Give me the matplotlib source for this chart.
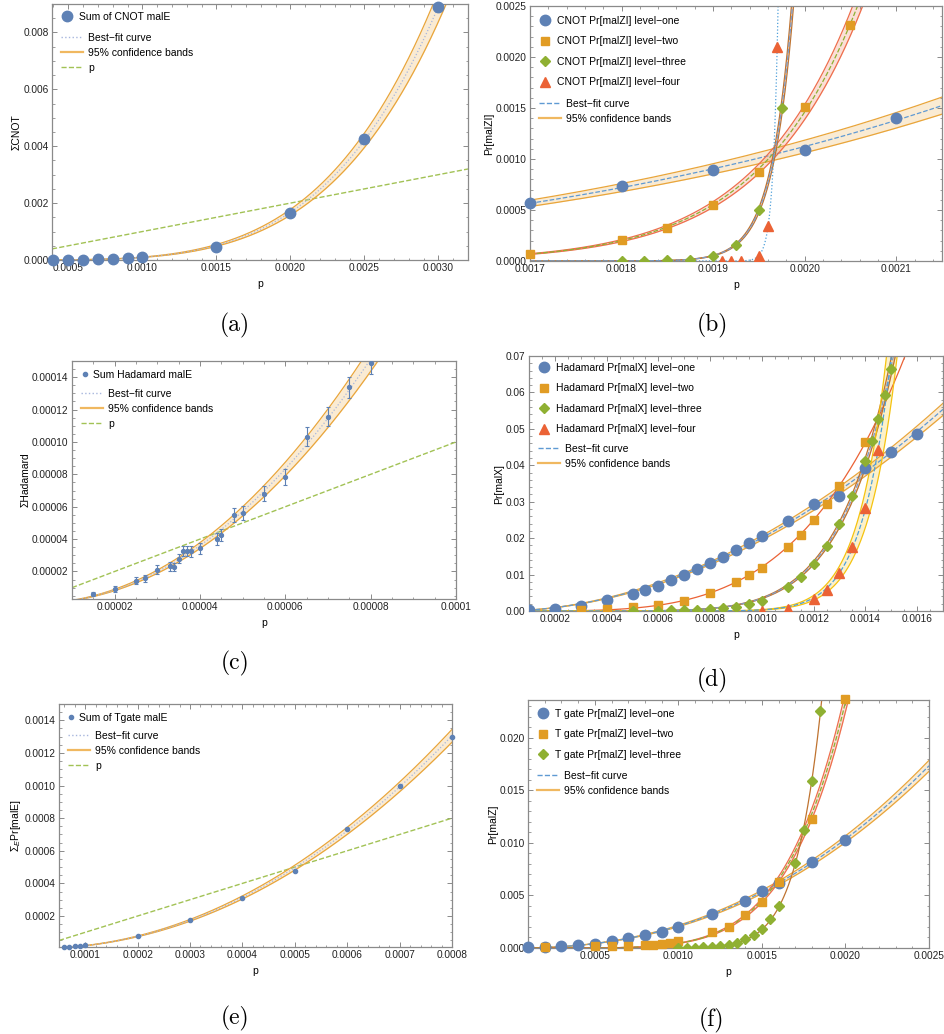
import numpy as np
import matplotlib
matplotlib.use('Agg')
import matplotlib.pyplot as plt
from matplotlib.lines import Line2D
from matplotlib.ticker import MultipleLocator, AutoMinorLocator, FuncFormatter

plt.rcParams['font.family'] = ['Liberation Sans', 'DejaVu Sans']
plt.rcParams['mathtext.fontset'] = 'custom'
plt.rcParams['mathtext.rm'] = 'Liberation Sans'
plt.rcParams['mathtext.it'] = 'Liberation Sans:italic'

# ---- data ----
# (a) CNOT sum
cnot_sum_p = [0.0004, 0.0005, 0.0006, 0.0007, 0.0008, 0.0009, 0.0010, 0.0015, 0.0020, 0.0025, 0.0030]
cnot_sum_y = [0.000003, 0.000007, 0.000014, 0.000026, 0.000044, 0.00007, 0.0001, 0.00045, 0.00165, 0.00425, 0.0089]

# (b) CNOT levels
cnot_l1_p = [0.0017, 0.0018, 0.0019, 0.0020, 0.0021]
cnot_l1_y = [0.00057, 0.00074, 0.00089, 0.00109, 0.0014]
cnot_l2_p = [0.0017, 0.0018, 0.00185, 0.0019, 0.00195, 0.0020, 0.00205]
cnot_l2_y = [0.00007, 0.00021, 0.00032, 0.00055, 0.00087, 0.00151, 0.00231]
cnot_l3_p = [0.0018, 0.001825, 0.00185, 0.001875, 0.0019, 0.001925, 0.00195, 0.001975]
cnot_l3_y = [0.0, 0.0, 0.000005, 0.00001, 0.00005, 0.00016, 0.0005, 0.0015]
cnot_l4_p = [0.00191, 0.00192, 0.00193, 0.00195, 0.00196, 0.00197]
cnot_l4_y = [0.0, 0.0, 0.0, 0.00005, 0.00034, 0.0021]

# (c) Hadamard sum with error bars
had_sum_p = [0.000015, 0.00002, 0.000025, 0.000027, 0.00003, 0.000033, 0.000034, 0.000035,
             0.000036, 0.000037, 0.000038, 0.00004, 0.000044, 0.000045, 0.000048, 0.00005,
             0.000055, 0.00006, 0.000065, 0.00007, 0.000075, 0.00008]
had_sum_y = [0.0000060, 0.0000093, 0.0000142, 0.0000157, 0.0000212, 0.0000231, 0.0000227, 0.000028,
             0.0000328, 0.0000328, 0.0000324, 0.0000344, 0.00004, 0.0000427, 0.000055, 0.0000563,
             0.000068, 0.0000786, 0.0001033, 0.0001157, 0.0001338, 0.000149]
had_sum_err = [0.0000014, 0.0000017, 0.0000021, 0.0000022, 0.0000026, 0.0000027, 0.0000027, 0.000003,
               0.0000032, 0.0000032, 0.0000032, 0.0000033, 0.0000035, 0.0000037, 0.0000042, 0.0000042,
               0.0000046, 0.000005, 0.0000057, 0.000006, 0.0000065, 0.0000068]

# (d) Hadamard levels
had_l1_p = [0.0001, 0.0002, 0.0003, 0.0004, 0.0005, 0.00055, 0.0006, 0.00065, 0.0007, 0.00075, 0.0008,
            0.00085, 0.0009, 0.00095, 0.0010, 0.0011, 0.0012, 0.0013, 0.0014, 0.0015, 0.0016]
had_l1_y = [0.0002, 0.0006, 0.0014, 0.0029, 0.0047, 0.0058, 0.0068, 0.0085, 0.0098, 0.0114, 0.0131,
            0.0148, 0.0167, 0.0186, 0.0207, 0.0248, 0.0293, 0.0316, 0.0392, 0.0436, 0.0485]
had_l2_p = [0.0003, 0.0004, 0.0005, 0.0006, 0.0007, 0.0008, 0.0009, 0.00095, 0.0010, 0.0011, 0.00115,
            0.0012, 0.00125, 0.0013, 0.0014]
had_l2_y = [0.0002, 0.0005, 0.0012, 0.0017, 0.0028, 0.0049, 0.008, 0.0099, 0.0119, 0.0177, 0.021,
            0.025, 0.0295, 0.0344, 0.0463]
had_l3_p = [0.0005, 0.0006, 0.00065, 0.0007, 0.00075, 0.0008, 0.00085, 0.0009, 0.00095, 0.0010, 0.0011,
            0.00115, 0.0012, 0.00125, 0.0013, 0.00135, 0.0014, 0.001425, 0.00145, 0.001475, 0.0015]
had_l3_y = [0.0001, 0.0001, 0.0002, 0.0003, 0.0004, 0.0006, 0.0008, 0.0012, 0.0018, 0.0028, 0.0065,
            0.0092, 0.0129, 0.0178, 0.024, 0.0316, 0.0412, 0.0467, 0.0527, 0.0594, 0.0665]
had_l4_p = [0.0010, 0.0011, 0.0012, 0.00125, 0.0013, 0.00135, 0.0014, 0.00145]
had_l4_y = [0.0, 0.0005, 0.0032, 0.0059, 0.0103, 0.0176, 0.0283, 0.0443]

# (e) T gate sum
tg_sum_p = [0.00006, 0.00007, 0.00008, 0.00009, 0.0001, 0.0002, 0.0003, 0.0004, 0.0005, 0.0006, 0.0007, 0.0008]
tg_sum_y = [0.0000098, 0.0000118, 0.000014, 0.000016, 0.0000241, 0.0000773, 0.000177, 0.000312,
            0.000474, 0.000736, 0.000998, 0.0013]

# (f) T gate levels
tg_l1_p = [0.0001, 0.0002, 0.0003, 0.0004, 0.0005, 0.0006, 0.0007, 0.0008, 0.0009, 0.0010, 0.0012,
           0.0014, 0.0015, 0.0016, 0.0018, 0.0020]
tg_l1_y = [0.0001, 0.0001, 0.00016, 0.00025, 0.0004, 0.00067, 0.00096, 0.0012, 0.00156, 0.002, 0.0032,
           0.0045, 0.0054, 0.0062, 0.0082, 0.0103]
tg_l2_p = [0.0002, 0.0005, 0.0006, 0.0007, 0.0008, 0.00085, 0.0009, 0.00095, 0.0010, 0.0012, 0.0013,
           0.0014, 0.0015, 0.0016, 0.0018, 0.0020]
tg_l2_y = [0.0001, 0.0002, 0.0002, 0.0002, 0.0003, 0.0003, 0.0004, 0.0005, 0.00067, 0.0015, 0.0020,
           0.0031, 0.0044, 0.0063, 0.0123, 0.0237]
tg_l3_p = [0.0010, 0.00105, 0.0011, 0.00115, 0.0012, 0.00125, 0.0013, 0.00135, 0.0014, 0.00145,
           0.0015, 0.00155, 0.0016, 0.0017, 0.00175, 0.0018, 0.00185]
tg_l3_y = [0.0, 0.0, 0.00002, 0.00006, 0.0001, 0.00016, 0.00025, 0.0005, 0.00083, 0.0012,
           0.0018, 0.0028, 0.004, 0.0081, 0.0112, 0.0159, 0.0226]

# ---- styling ----
BLUE = '#5E81B5'
ORANGE = '#E19C24'
GREEN = '#8FB032'
RED = '#EB6235'
BAND_OR = '#E9A53A'
BAND_RED = '#EE6E4C'
BAND_BROWN = '#BF7330'
BAND_YEL = '#F5C30F'
FIT_DOT = '#A7B6DD'
FIT_DASH = '#5F9AD3'
PLINE = '#A2C255'
FS = 7.5

FW, FH = 945, 1034
fig = plt.figure(figsize=(FW / 100, FH / 100), dpi=100)


def make_ax(l, t, r, b):
    ax = fig.add_axes([l / FW, 1 - b / FH, (r - l) / FW, (b - t) / FH])
    ax._px = (r - l, b - t)
    return ax


def frame(ax, xlim, ylim, xstep, ystep, xdec, ydec, strip_x=False):
    ax.set_xlim(xlim)
    ax.set_ylim(ylim)
    ax.xaxis.set_major_locator(MultipleLocator(xstep))
    ax.yaxis.set_major_locator(MultipleLocator(ystep))
    ax.xaxis.set_minor_locator(AutoMinorLocator())
    ax.yaxis.set_minor_locator(AutoMinorLocator())
    if strip_x:
        ax.xaxis.set_major_formatter(FuncFormatter(lambda v, pos: f'{v:.{xdec}f}'.rstrip('0')))
    else:
        ax.xaxis.set_major_formatter(FuncFormatter(lambda v, pos: f'{v:.{xdec}f}'))
    ax.yaxis.set_major_formatter(FuncFormatter(lambda v, pos: f'{v:.{ydec}f}'))
    ax.tick_params(which='both', direction='in', top=True, right=True, color='#777777',
                   labelsize=7.3, labelcolor='#222222', pad=2.5)
    ax.tick_params(which='major', length=3.5, width=0.6)
    ax.tick_params(which='minor', length=1.8, width=0.5)
    for s in ax.spines.values():
        s.set_color('#8a8a8a')
        s.set_linewidth(0.9)
    ax.set_xlabel('p', fontsize=FS, labelpad=4)


def fit_band(ax, p, y, rel, band_col, fit_col, fit_ls):
    p = np.asarray(p, float)
    y = np.asarray(y, float)
    m = y > 0
    n, c = np.polyfit(np.log(p[m]), np.log(y[m]), 1, w=y[m])
    x0, x1 = ax.get_xlim()
    xs = np.linspace(x0, x1, 3000)
    ys = np.exp(c + n * np.log(xs))
    if rel > 0:
        ax.fill_between(xs, ys * (1 - rel), ys * (1 + rel), color=band_col, alpha=0.22, lw=0, zorder=1)
        ax.plot(xs, ys * (1 - rel), color=band_col, lw=0.9, zorder=2)
        ax.plot(xs, ys * (1 + rel), color=band_col, lw=0.9, zorder=2)
    ax.plot(xs, ys, color=fit_col, ls=fit_ls, lw=0.9, zorder=2)


def legends(ax, mitems, litems, top1, top2, mx=15, tx=27):
    w, h = ax._px
    em = FS * 100 / 72
    mh = [Line2D([], [], ls='none', marker=mk, color=col, ms=ms) for mk, col, ms, _ in mitems]
    leg1 = ax.legend(mh, [it[3] for it in mitems], loc='upper left',
                     bbox_to_anchor=((mx - em / 2) / w, 1 - top1 / h), frameon=False, fontsize=FS,
                     borderpad=0, borderaxespad=0, handlelength=1.0,
                     handletextpad=(tx - mx - em / 2) / em, labelspacing=1.0)
    ax.add_artist(leg1)
    lh = [Line2D([], [], color=col, ls=ls, lw=lw) for col, ls, lw, _ in litems]
    ax.legend(lh, [it[3] for it in litems], loc='upper left',
              bbox_to_anchor=(9 / w, 1 - top2 / h), frameon=False, fontsize=FS,
              borderpad=0, borderaxespad=0, handlelength=22 / em,
              handletextpad=5 / em, labelspacing=0.46)


def panel_label(x, y, s):
    fig.text(x / FW, 1 - y / FH, s, fontsize=17, family='cmr10', ha='center', va='center')


sum_lines = [(FIT_DOT, ':', 1.0, 'Best\u2212fit curve'),
             ('#F0B860', '-', 1.6, '95% confidence bands'),
             (PLINE, '--', 1.0, 'p')]
lvl_lines = [(FIT_DASH, '--', 1.0, 'Best\u2212fit curve'),
             ('#F0B860', '-', 1.6, '95% confidence bands')]

# ---- (a) ----
ax = make_ax(52, 4, 468, 260)
frame(ax, (0.00039, 0.0032), (0, 0.009), 0.0005, 0.002, 4, 3)
ax.plot([0.00039, 0.0032], [0.00039, 0.0032], color=PLINE, ls='--', lw=1.0, zorder=2)
fit_band(ax, cnot_sum_p, cnot_sum_y, 0.06, BAND_OR, FIT_DOT, ':')
ax.plot(cnot_sum_p, cnot_sum_y, 'o', color=BLUE, ms=7.5, zorder=3, clip_on=False)
ax.set_ylabel('\u03a3CNOT', fontsize=FS, labelpad=1)
legends(ax, [('o', BLUE, 7.5, 'Sum of CNOT malE')], sum_lines, 8, 29)
panel_label(235, 325, '(a)')

# ---- (b) ----
ax = make_ax(530, 6, 942, 261)
frame(ax, (0.0017, 0.00215), (0, 0.0025), 0.0001, 0.0005, 4, 4)
fit_band(ax, cnot_l1_p, cnot_l1_y, 0.055, BAND_OR, FIT_DASH, '--')
fit_band(ax, cnot_l2_p, cnot_l2_y, 0.05, BAND_RED, GREEN, '--')
fit_band(ax, cnot_l3_p, cnot_l3_y, 0.05, BAND_BROWN, '#7E9CC8', '--')
fit_band(ax, cnot_l4_p, cnot_l4_y, 0.0, BAND_OR, '#4FA0DA', ':')
ax.plot(cnot_l1_p, cnot_l1_y, 'o', color=BLUE, ms=7.5, zorder=3, clip_on=False)
ax.plot(cnot_l2_p, cnot_l2_y, 's', color=ORANGE, ms=5.5, zorder=3, clip_on=False)
ax.plot(cnot_l3_p, cnot_l3_y, 'D', color=GREEN, ms=5.5, zorder=3)
ax.plot(cnot_l4_p, cnot_l4_y, '^', color=RED, ms=6.5, zorder=3)
ax.set_ylabel('Pr[malZI]', fontsize=FS, labelpad=1)
legends(ax, [('o', BLUE, 7.5, 'CNOT Pr[malZI] level\u2212one'),
             ('s', ORANGE, 5.5, 'CNOT Pr[malZI] level\u2212two'),
             ('D', GREEN, 5.5, 'CNOT Pr[malZI] level\u2212three'),
             ('^', RED, 6.5, 'CNOT Pr[malZI] level\u2212four')], lvl_lines, 10, 93)
panel_label(712, 325, '(b)')

# ---- (c) ----
ax = make_ax(72, 361, 456, 599)
frame(ax, (0.00001, 0.0001), (0.000003, 0.00015), 0.00002, 0.00002, 5, 5, strip_x=True)
ax.plot([0.00001, 0.0001], [0.00001, 0.0001], color=PLINE, ls='--', lw=1.0, zorder=2)
fit_band(ax, had_sum_p, had_sum_y, 0.05, BAND_OR, FIT_DOT, ':')
ax.errorbar(had_sum_p, had_sum_y, yerr=had_sum_err, fmt='o', color=BLUE, ms=2.8, lw=0.8,
            capsize=1.5, capthick=0.8, zorder=3)
ax.set_ylabel('\u03a3Hadamard', fontsize=FS, labelpad=1)
legends(ax, [('o', BLUE, 3, 'Sum Hadamard malE')], sum_lines, 9, 28, mx=13, tx=21)
panel_label(235, 663, '(c)')

# ---- (d) ----
ax = make_ax(529, 356, 943, 611)
frame(ax, (0.0001, 0.0017), (0, 0.07), 0.0002, 0.01, 4, 2)
fit_band(ax, had_l1_p, had_l1_y, 0.03, BAND_OR, FIT_DASH, '--')
fit_band(ax, had_l2_p, had_l2_y, 0.0, BAND_RED, RED, '-')
fit_band(ax, had_l3_p, had_l3_y, 0.035, BAND_BROWN, '#7E9CC8', '--')
fit_band(ax, had_l4_p, had_l4_y, 0.18, BAND_YEL, '#4FA0DA', '--')
ax.plot(had_l1_p, had_l1_y, 'o', color=BLUE, ms=7.5, zorder=3)
ax.plot(had_l2_p, had_l2_y, 's', color=ORANGE, ms=5.5, zorder=3)
ax.plot(had_l3_p, had_l3_y, 'D', color=GREEN, ms=5.5, zorder=3)
ax.plot(had_l4_p, had_l4_y, '^', color=RED, ms=6.5, zorder=3)
ax.set_ylabel('Pr[malX]', fontsize=FS, labelpad=1)
legends(ax, [('o', BLUE, 7.5, 'Hadamard Pr[malX] level\u2212one'),
             ('s', ORANGE, 5.5, 'Hadamard Pr[malX] level\u2212two'),
             ('D', GREEN, 5.5, 'Hadamard Pr[malX] level\u2212three'),
             ('^', RED, 6.5, 'Hadamard Pr[malX] level\u2212four')], lvl_lines, 7, 88)
panel_label(712, 680, '(d)')

# ---- (e) ----
ax = make_ax(59, 704, 452, 947)
frame(ax, (0.00005, 0.0008), (0.00001, 0.0015), 0.0001, 0.0002, 4, 4)
ax.plot([0.00005, 0.0008], [0.00005, 0.0008], color=PLINE, ls='--', lw=1.0, zorder=2)
fit_band(ax, tg_sum_p, tg_sum_y, 0.03, BAND_OR, FIT_DOT, ':')
ax.plot(tg_sum_p, tg_sum_y, 'o', color=BLUE, ms=3, zorder=3, clip_on=False)
ax.set_ylabel('$\\Sigma_{E}$Pr[malE]', fontsize=FS, labelpad=1)
legends(ax, [('o', BLUE, 3, 'Sum of Tgate malE')], sum_lines, 9, 27, mx=12, tx=20)
panel_label(235, 1018, '(e)')

# ---- (f) ----
ax = make_ax(528, 700, 929, 948)
frame(ax, (0.0001, 0.0025), (0, 0.0236), 0.0005, 0.005, 4, 3)
fit_band(ax, tg_l1_p, tg_l1_y, 0.03, BAND_OR, FIT_DASH, '--')
fit_band(ax, tg_l2_p, tg_l2_y, 0.04, BAND_RED, GREEN, '--')
fit_band(ax, tg_l3_p, tg_l3_y, 0.0, BAND_BROWN, BAND_BROWN, '-')
ax.plot(tg_l1_p, tg_l1_y, 'o', color=BLUE, ms=7.5, zorder=3, clip_on=False)
ax.plot(tg_l2_p, tg_l2_y, 's', color=ORANGE, ms=5.5, zorder=3, clip_on=False)
ax.plot(tg_l3_p, tg_l3_y, 'D', color=GREEN, ms=5.5, zorder=3)
ax.set_ylabel('Pr[malZ]', fontsize=FS, labelpad=1)
legends(ax, [('o', BLUE, 7.5, 'T gate Pr[malZ] level\u2212one'),
             ('s', ORANGE, 5.5, 'T gate Pr[malZ] level\u2212two'),
             ('D', GREEN, 5.5, 'T gate Pr[malZ] level\u2212three')], lvl_lines, 9, 71)
panel_label(712, 1020, '(f)')

fig.savefig('out.png', dpi=100)
